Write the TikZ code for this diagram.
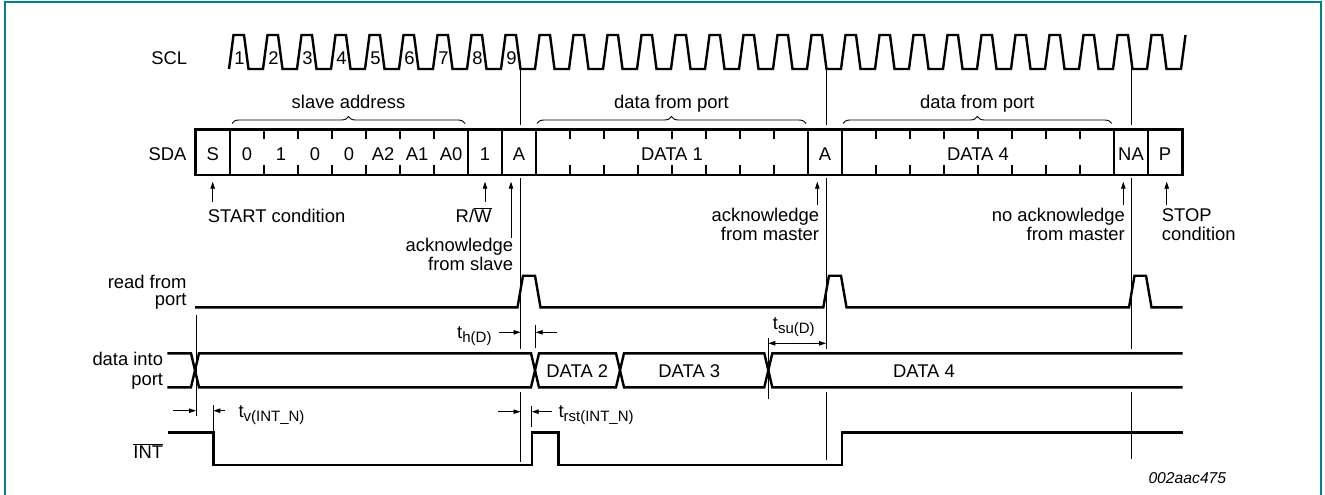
\documentclass[tikz,border=0pt]{standalone}
\usepackage{fontspec}
\setmainfont{Liberation Sans}
\usetikzlibrary{arrows.meta,decorations.pathreplacing}
\definecolor{frameteal}{RGB}{0,128,145}
\newcommand{\tsb}[1]{\raisebox{-4pt}{\fontsize{15}{15}\selectfont #1}}
\begin{document}
\begin{tikzpicture}[x=1pt,y=-1pt,
  lbl/.style={inner sep=0pt, font=\fontsize{18.4}{18.4}\selectfont},
  wave/.style={line width=2.4pt},
  thinline/.style={line width=0.9pt},
  arr/.style={line width=0.9pt, -{Triangle[length=7pt,width=4.5pt]}},
  darr/.style={line width=0.9pt, {Triangle[length=7pt,width=4.5pt]}-{Triangle[length=7pt,width=4.5pt]}},
  brc/.style={line width=0.9pt, decorate, decoration={brace, amplitude=7pt}},
]
\useasboundingbox (0,0) rectangle (1325,495);
% frame
\draw[frameteal, line width=1.6pt] (4.7,496) -- (4.7,2.3) -- (1320.7,2.3) -- (1320.7,496);

% ---------- SCL ----------
\node[lbl, anchor=base east] (sclL) at (187.3,64) {SCL};
\draw[wave] (229,69) \foreach \k in {0,...,27} { -- ({230+34*\k+3.5},35) -- ({230+34*\k+14},35) -- ({230+34*\k+18.5},69) -- ({230+34*\k+33},69) } -- (1185.5,35);
\foreach \k in {1,...,9} \node[lbl, anchor=base] (n\k) at ({230+34*(\k-1)+9.5},65) {\k};

% ---------- braces ----------
\draw[brc] (232,123.5) -- (465,123.5);
\node[lbl, anchor=base] (braceA) at (348.5,108.3) {slave address};
\draw[brc] (537,123.5) -- (806,123.5);
\node[lbl, anchor=base] (braceB) at (671.5,108.3) {data from port};
\draw[brc] (843,123.5) -- (1111.7,123.5);
\node[lbl, anchor=base] (braceC) at (977.3,108.3) {data from port};

% ---------- SDA ----------
\node[lbl, anchor=base east] (sdaL) at (186.7,160) {SDA};
\draw[wave] (195.5,129.3) rectangle (1182.5,175);
\foreach \x in {230,468,502,536,808,842,1114,1148} \draw[wave] (\x,129.3) -- (\x,175);
\foreach \x in {264,298,332,366,400,434,570,604,638,672,706,740,774,876,910,944,978,1012,1046,1080} {
  \draw[wave] (\x,129.3) -- (\x,139.3);
  \draw[wave] (\x,175) -- (\x,165);
}
\node[lbl, anchor=base] (cS) at (212.75,160) {S};
\foreach \t [count=\i] in {0,1,0,0,A2,A1,A0} \node[lbl, anchor=base] (ca\i) at ({247+34*(\i-1)},160) {\t};
\node[lbl, anchor=base] (cRW) at (485,160) {1};
\node[lbl, anchor=base] (cA1) at (519,160) {A};
\node[lbl, anchor=base] (cD1) at (672,160) {DATA 1};
\node[lbl, anchor=base] (cA2) at (825,160) {A};
\node[lbl, anchor=base] (cD4) at (978,160) {DATA 4};
\node[lbl, anchor=base] (cNA) at (1131,160) {NA};
\node[lbl, anchor=base] (cP) at (1165,160) {P};

% ---------- labels under SDA ----------
\draw[arr] (212.7,201.7) -- (212.7,181.7);
\node[lbl, anchor=base west] (startL) at (207.7,222.3) {START condition};
\draw[arr] (485,201.7) -- (485,181.7);
\node[lbl, anchor=base east] (rwL) at (491.7,222.3) {R/$\overline{\mbox{W}}$};
\draw[arr] (511,238) -- (511,181.7);
\node[lbl, anchor=base east] (ackS1) at (513.3,251.7) {acknowledge};
\node[lbl, anchor=base east] (ackS2) at (513.3,270) {from slave};
\draw[arr] (817.3,205) -- (817.3,181.7);
\node[lbl, anchor=base east] (ackM1) at (819.3,221.7) {acknowledge};
\node[lbl, anchor=base east] (ackM2) at (819.3,240.7) {from master};
\draw[arr] (1123.3,205) -- (1123.3,181.7);
\node[lbl, anchor=base east] (nack1) at (1125,221.7) {no acknowledge};
\node[lbl, anchor=base east] (nack2) at (1125,240.7) {from master};
\draw[arr] (1166.7,205) -- (1166.7,181.7);
\node[lbl, anchor=base west] (stop1) at (1161.7,221.7) {STOP};
\node[lbl, anchor=base west] (stop2) at (1161.7,240.7) {condition};

% ---------- vertical reference lines ----------
\foreach \x/\e in {520.5/461.7, 826/460, 1131.7/459.3} {
  \draw[thinline] (\x,69) -- (\x,125);
  \draw[thinline] (\x,178) -- (\x,348.5);
  \draw[thinline] (\x,391.7) -- (\x,\e);
}

% ---------- read from port ----------
\node[lbl, anchor=base east] (rdL1) at (186.7,288.3) {read from};
\node[lbl, anchor=base east] (rdL2) at (186.7,305.7) {port};
\draw[wave] (195,307.3) -- (517.5,307.3) -- (523,275.7) -- (535,275.7) -- (540.5,307.3)
  -- (823.3,307.3) -- (829,275.7) -- (841,275.7) -- (846.5,307.3)
  -- (1129,307.3) -- (1134.5,275.7) -- (1146,275.7) -- (1151.5,307.3) -- (1182.5,307.3);

% ---------- data into port ----------
\node[lbl, anchor=base east] (dpL1) at (163.3,365.7) {data into};
\node[lbl, anchor=base east] (dpL2) at (163.3,385) {port};
\draw[wave] (167.3,353.3) -- (191,353.3) -- (199,387.3) -- (531,387.3) -- (539,353.3) -- (616,353.3) -- (624,387.3) -- (764.3,387.3) -- (772.3,353.3) -- (1182.7,353.3);
\draw[wave] (167.3,387.3) -- (191,387.3) -- (199,353.3) -- (531,353.3) -- (539,387.3) -- (616,387.3) -- (624,353.3) -- (764.3,353.3) -- (772.3,387.3) -- (1182.7,387.3);
\node[lbl, anchor=base] (dat2) at (577.3,377.3) {DATA 2};
\node[lbl, anchor=base] (dat3) at (689.3,377.3) {DATA 3};
\node[lbl, anchor=base] (dat4) at (924,377.3) {DATA 4};

% ---------- timing annotations ----------
\draw[thinline] (196,315) -- (196,416);
\draw[thinline] (213.3,405) -- (213.3,432);
\draw[arr] (173,410.7) -- (196,410.7);
\draw[arr] (225,410.7) -- (213.3,410.7);
\node[lbl, anchor=base west] (tv) at (238.3,417) {t\tsb{v(INT\_N)}};

\draw[thinline] (535.7,325) -- (535.7,348.3);
\draw[arr] (499.3,332.3) -- (520.5,332.3);
\draw[arr] (557,332.3) -- (535.7,332.3);
\node[lbl, anchor=base east] (th) at (491.7,338) {t\tsb{h(D)}};

\draw[thinline] (531.7,406) -- (531.7,427);
\draw[arr] (498.3,411.7) -- (520.5,411.7);
\draw[arr] (551.7,411.7) -- (531.7,411.7);
\node[lbl, anchor=base west] (trst) at (558.3,417.3) {t\tsb{rst(INT\_N)}};

\draw[thinline] (768.3,338.3) -- (768.3,399.3);
\draw[darr] (768.3,343.3) -- (826,343.3);
\node[lbl, anchor=base west] (tsu) at (772.7,329.3) {t\tsb{su(D)}};

% ---------- INT ----------
\node[lbl, anchor=base east] (intL) at (163.3,458.3) {$\overline{\mbox{INT}}$};
\draw[wave] (168,432.3) -- (213.3,432.3) -- (213.3,465) -- (531.7,465) -- (531.7,432.3) -- (558.3,432.3) -- (558.3,465) -- (841.7,465) -- (841.7,432.3) -- (1182.7,432.3);

\node[lbl, anchor=base west, font=\fontsize{15.7}{16}\selectfont\itshape] (code) at (1148.3,483.3) {002aac475};
\end{tikzpicture}
\end{document}
